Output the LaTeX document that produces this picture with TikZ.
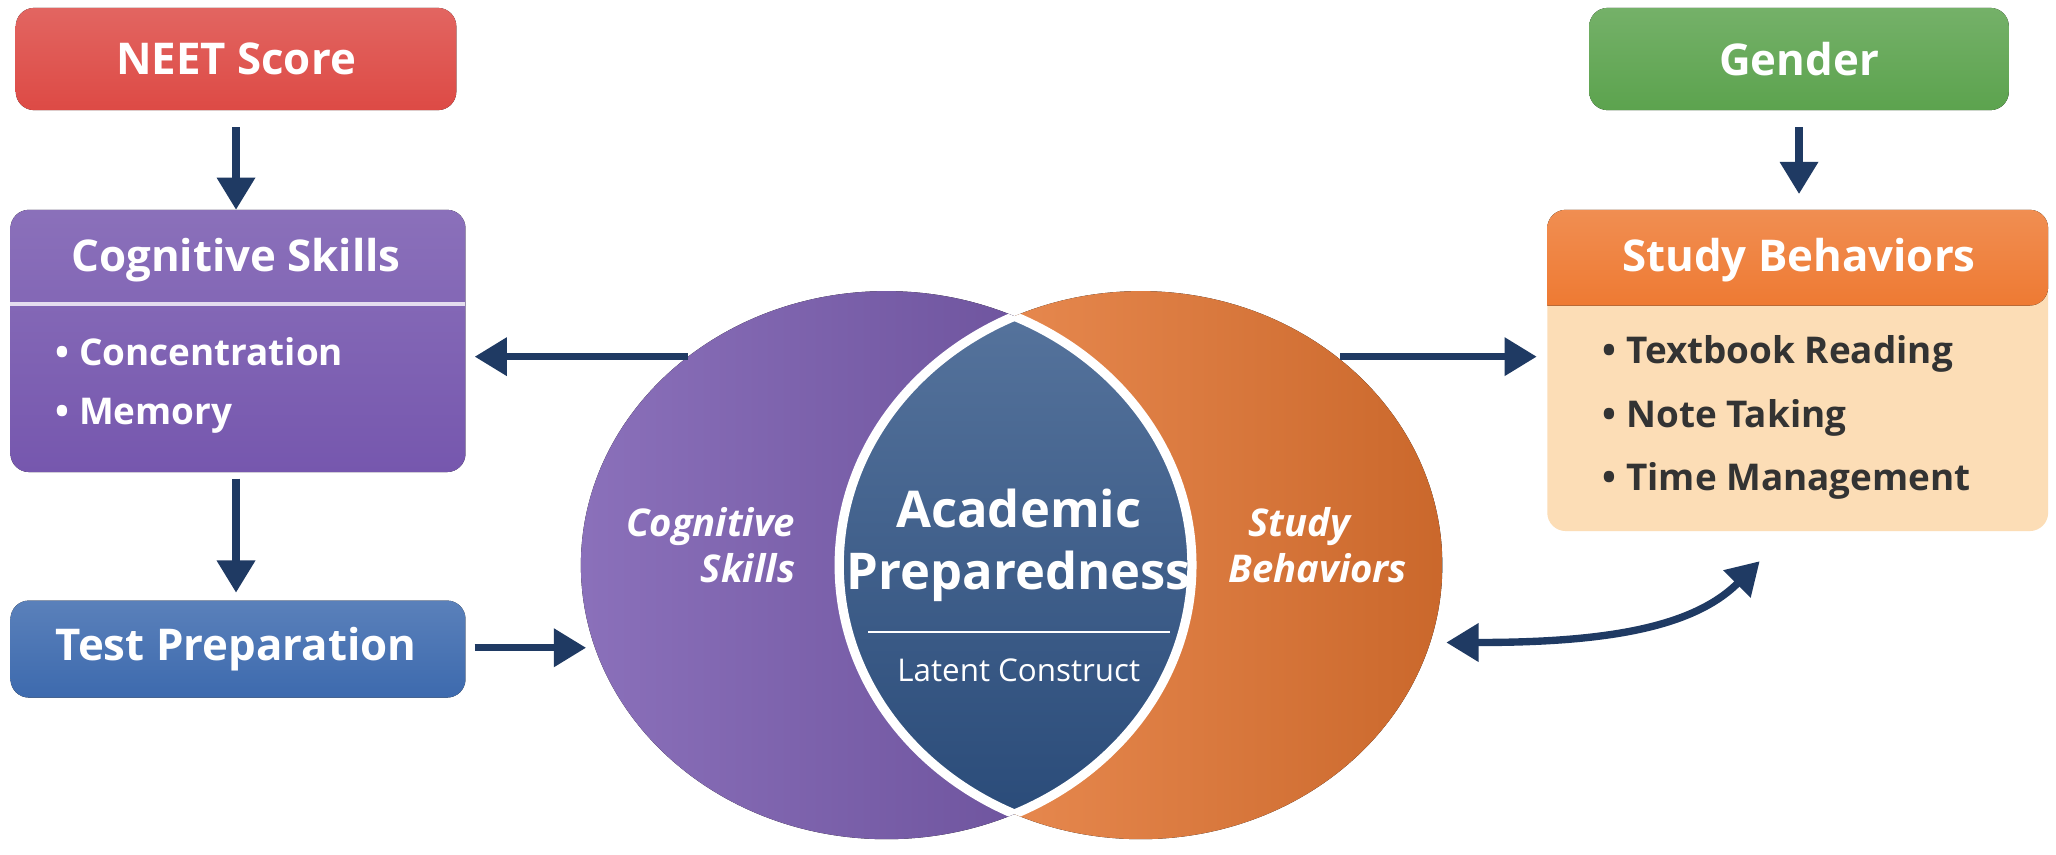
\documentclass[tikz,border=0pt]{standalone}
\usepackage{fontspec}
\setmainfont{Open Sans}
\usetikzlibrary{arrows.meta}
\definecolor{nred}{HTML}{DD4A45}
\definecolor{npurp}{HTML}{7657AE}
\definecolor{nblue}{HTML}{3D6AAE}
\definecolor{ngreen}{HTML}{5CA34E}
\definecolor{norange}{HTML}{EE7A33}
\definecolor{npeach}{HTML}{FCDDB6}
\definecolor{nlens}{HTML}{2D5285}
\definecolor{narrow}{HTML}{1F3A63}
\definecolor{ntext}{HTML}{333333}
\tikzset{
  box/.style={rounded corners=4pt, draw=none},
  hd/.style={text=white, font=\bfseries\fontsize{9.5}{11}\selectfont},
  bl/.style={anchor=west, font=\fontsize{8}{10}\selectfont\bfseries},
  arr/.style={draw=narrow, line width=1.6pt, -{Triangle[length=7pt,width=8pt]}},
  darr/.style={draw=narrow, line width=1.6pt, {Triangle[length=7pt,width=8pt]}-{Triangle[length=7pt,width=8pt]}},
  it/.style={text=white, font=\bfseries\itshape\fontsize{8.3}{10}\selectfont}
}
\begin{document}
\begin{tikzpicture}
\useasboundingbox[fill=white] (0,0) rectangle (15.68,-6.52);
% left column
\fill[box, top color=nred!85!white, bottom color=nred] (0.12,-0.06) rectangle (3.48,-0.84);
\node[hd] (neet) at (1.8,-0.45) {NEET Score};
\coordinate (neetb) at (1.8,-0.84);
\fill[box, top color=npurp!85!white, bottom color=npurp] (0.08,-1.6) rectangle (3.55,-3.6);
\draw[white!80!npurp, line width=0.8pt] (0.08,-2.32) -- (3.55,-2.32);
\node[hd] (cog) at (1.8,-1.98) {Cognitive Skills};
\node[bl, text=white] (c1) at (0.3,-2.68) {• Concentration};
\node[bl, text=white] (c2) at (0.3,-3.17) {• Memory};
\coordinate (cogt) at (1.8,-1.6);
\coordinate (cogb) at (1.8,-3.6);
\coordinate (cogr) at (3.62,-2.72);
\fill[box, top color=nblue!85!white, bottom color=nblue] (0.08,-4.58) rectangle (3.55,-5.32);
\node[hd] (tp) at (1.8,-4.95) {Test Preparation};
\coordinate (tpt) at (1.8,-4.52);
\coordinate (tpr) at (3.62,-4.94);
% right column
\fill[box, top color=ngreen!85!white, bottom color=ngreen] (12.12,-0.06) rectangle (15.32,-0.84);
\node[hd] (gen) at (13.72,-0.45) {Gender};
\coordinate (genb) at (13.72,-0.97);
\fill[box, fill=npeach] (11.8,-1.6) rectangle (15.62,-4.05);
\fill[top color=norange!85!white, bottom color=norange, rounded corners=4pt] (11.8,-2.33) -- (11.8,-1.6) -- (15.62,-1.6) -- (15.62,-2.33) [sharp corners] -- cycle;
\node[hd] (sb) at (13.72,-1.98) {Study Behaviors};
\node[bl, text=ntext] (s1) at (12.1,-2.7) {• Textbook Reading};
\node[bl, text=ntext] (s2) at (12.1,-3.19) {• Note Taking};
\node[bl, text=ntext] (s3) at (12.1,-3.67) {• Time Management};
\coordinate (sbt) at (13.72,-1.48);
\coordinate (sbl) at (11.72,-2.72);
\coordinate (sbb) at (13.42,-4.28);
% venn
\fill[left color=npurp!85!white, right color=npurp!85!black] (6.76,-4.31) ellipse (2.33 and 2.09);
\fill[left color=norange!80!white, right color=norange!85!black] (8.70,-4.31) ellipse (2.30 and 2.09);
\begin{scope}
\clip (6.76,-4.31) ellipse (2.33 and 2.09);
\fill[top color=nlens!80!white, bottom color=nlens!90!black] (8.70,-4.31) ellipse (2.30 and 2.09);
\draw[white, line width=2pt] (8.70,-4.31) ellipse (2.30 and 2.09);
\end{scope}
\begin{scope}
\clip (8.70,-4.31) ellipse (2.30 and 2.09);
\draw[white, line width=2pt] (6.76,-4.31) ellipse (2.33 and 2.09);
\end{scope}
\node[text=white, font=\bfseries\fontsize{11}{13.5}\selectfont, align=center] (ap) at (7.77,-4.16) {Academic\\Preparedness};
\draw[white, line width=0.6pt] (6.62,-4.82) -- (8.92,-4.82);
\node[text=white, font=\fontsize{6.8}{8}\selectfont] (lc) at (7.77,-5.11) {Latent Construct};
\node[it, align=right] (cl) at (5.42,-4.16) {Cognitive\\Skills\hspace{0.28cm}};
\node[it, align=left] (sl) at (10.05,-4.16) {\hspace{0.15cm}Study\\Behaviors};
\coordinate (vl) at (5.25,-2.72);
\coordinate (vr) at (10.22,-2.72);
\coordinate (vtp) at (4.47,-4.94);
\coordinate (vsb) at (11.03,-4.9);
% arrows
\draw[arr] (neetb) ++(0,-0.13) -- (tpt |- cogt);
\draw[arr] (genb) -- (sbt);
\draw[arr] (cogb) ++(0,-0.05) -- (tpt);
\draw[arr] (tpr) -- (vtp);
\draw[arr] (vl) -- (cogr);
\draw[arr] (vr) -- (sbl);
\draw[darr] (vsb) .. controls (12.2,-4.9) and (12.9,-4.8) .. (sbb);
\end{tikzpicture}
\end{document}
